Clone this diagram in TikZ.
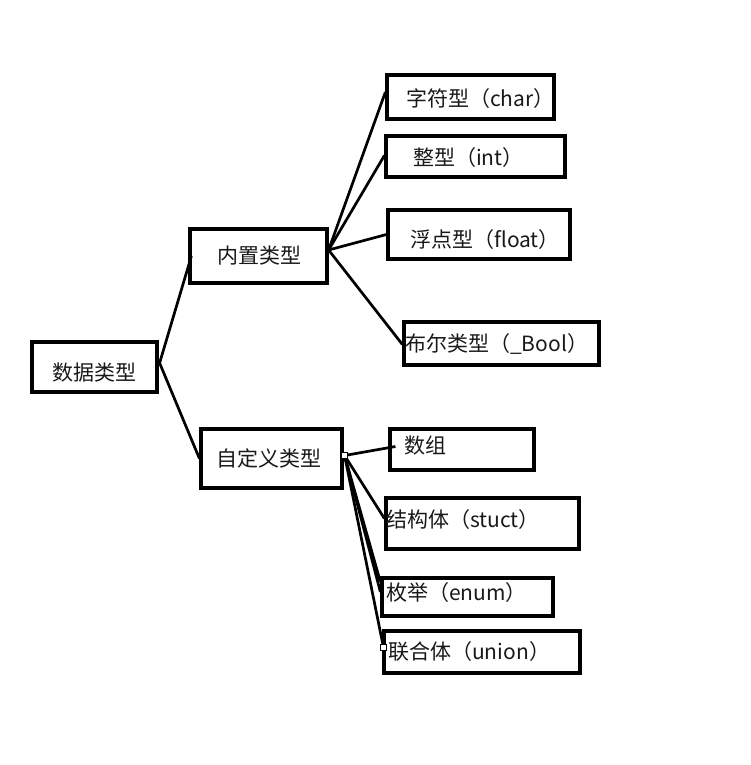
\documentclass[tikz,border=0pt]{standalone}
\usepackage{fontspec}
\setmainfont{Noto Sans CJK SC}
\begin{document}
\begin{tikzpicture}[x=1pt,y=-1pt,
  box/.style={draw=black,line width=3.2pt,inner sep=0pt},
  txt/.style={font=\fontsize{21}{24}\selectfont,inner sep=0pt,anchor=west,text=black!90},
  conn/.style={line width=2.7pt,black},
  handle/.style={draw=black,fill=white,line width=0.7pt,minimum size=6pt,inner sep=0pt}]
\useasboundingbox (0,0) rectangle (750,765);
% boxes
\node[box,minimum width=125pt,minimum height=50pt] (root) at (94.5,367) {};
\node[box,minimum width=137pt,minimum height=54pt] (nz) at (258.5,256) {};
\node[box,minimum width=141pt,minimum height=59pt] (zdy) at (271.5,458.5) {};
\node[box,minimum width=167pt,minimum height=44pt] (c1) at (470.5,97) {};
\node[box,minimum width=179pt,minimum height=41pt] (c2) at (475.5,156.5) {};
\node[box,minimum width=182pt,minimum height=49pt] (c3) at (479,234.5) {};
\node[box,minimum width=195pt,minimum height=43pt] (c4) at (501.5,343.5) {};
\node[box,minimum width=144pt,minimum height=41pt] (d1) at (462,449.5) {};
\node[box,minimum width=193pt,minimum height=51pt] (d2) at (482.5,523.5) {};
\node[box,minimum width=171pt,minimum height=38pt] (d3) at (467.5,597) {};
\node[box,minimum width=196pt,minimum height=42pt] (d4) at (482,652) {};
% texts
\node[txt] at (52,373) {数据类型};
\node[txt] at (217,256) {内置类型};
\node[txt] at (216,458) {自定义类型};
\node[txt] at (406,99) {字符型（char）};
\node[txt] at (413,158) {整型（int）};
\node[txt] at (410,240) {浮点型（float）};
\node[txt] at (405,344) {布尔类型（\_Bool）};
\node[txt] at (404,446) {数组};
\node[txt] at (386,520) {结构体（stuct）};
\node[txt] at (386,593) {枚举（enum）};
\node[txt] at (388,652) {联合体（union）};
% connectors
\coordinate (rootR) at ([xshift=1pt,yshift=4pt]root.east);
\coordinate (nzR) at ([yshift=6pt]nz.east);
\coordinate (zdyR) at ([xshift=1pt,yshift=3pt]zdy.east);
\draw[conn] (rootR) -- ([xshift=3pt]nz.west);
\draw[conn] (rootR) -- (zdy.west);
\draw[conn] (nzR) -- ([yshift=5pt]c1.west);
\draw[conn] (nzR) -- ([yshift=1pt]c2.west);
\draw[conn] (nzR) -- (c3.west);
\draw[conn] (nzR) -- ([yshift=-1pt]c4.west);
\draw[conn] (zdyR) -- ([xshift=7pt,yshift=3pt]d1.west);
\draw[conn] (zdyR) -- ([yshift=5pt]d2.west);
\draw[conn] (zdyR) -- ([yshift=15pt]d3.west);
\draw[conn] (zdyR) -- ([yshift=5pt]d3.west);
\draw[conn] (zdyR) -- ([xshift=1pt,yshift=5pt]d4.west);
\node[handle] at (zdyR) {};
\node[handle] at ([xshift=1pt,yshift=5pt]d4.west) {};
\end{tikzpicture}
\end{document}
